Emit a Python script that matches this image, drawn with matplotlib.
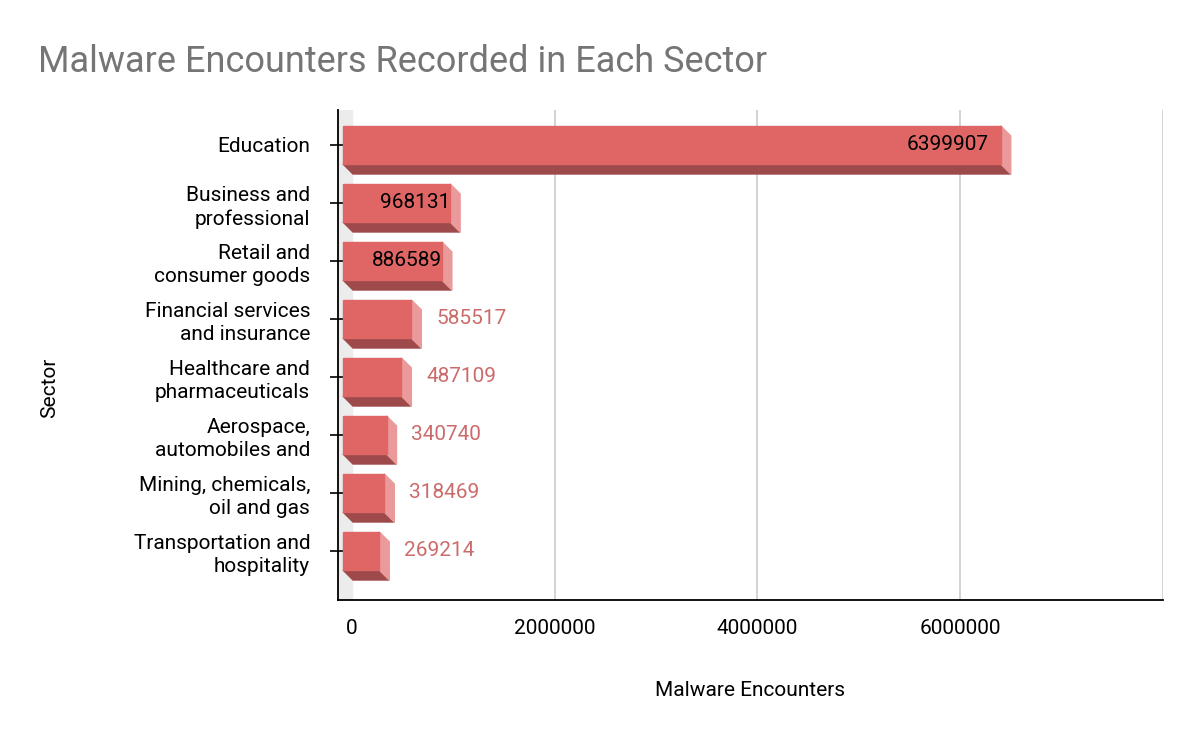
import matplotlib
matplotlib.use("Agg")
import matplotlib.pyplot as plt
from matplotlib.patches import Polygon, Rectangle

categories = ["Education", "Business and\nprofessional", "Retail and\nconsumer goods",
              "Financial services\nand insurance", "Healthcare and\npharmaceuticals",
              "Aerospace,\nautomobiles and", "Mining, chemicals,\noil and gas",
              "Transportation and\nhospitality"]
values = [6399907, 968131, 886589, 585517, 487109, 340740, 318469, 269214]
xticks = [0, 2000000, 4000000, 6000000]

plt.rcParams["font.family"] = "Roboto"
fig = plt.figure(figsize=(12, 7.42), dpi=100)
ax = fig.add_axes([338/1200, 1-600/742, (1163-338)/1200, 490/742])

px = 2000000/203.0
x0 = -9*px
ax.set_xlim(-14*px, 8000000)
ax.set_ylim(7.845, -0.603)
dx, dy = 10*px, 10/58.0
h = 0.328
front, bottom, side = "#e06666", "#9e4a4a", "#ea9a9a"

ax.add_patch(Rectangle((-14*px, -0.603), 14*px, 8.45, color="#ececec", zorder=0))
for i, v in enumerate(values):
    ax.add_patch(Polygon([(x0, i+h), (v, i+h), (v+dx, i+h+dy), (x0+dx, i+h+dy)], color=bottom, zorder=2))
    ax.add_patch(Polygon([(v, i-h), (v+dx, i-h+dy), (v+dx, i+h+dy), (v, i+h)], color=side, zorder=2))
    ax.add_patch(Rectangle((x0, i-h), v-x0, 2*h, color=front, zorder=3))
    if i < 3:
        ax.text(v-12*px if i == 0 else v, i, str(v), ha="right", va="center", fontsize=15, color="black", zorder=4)
    else:
        ax.text(v+dx+15*px, i, str(v), ha="left", va="center", fontsize=15, color="#cc6b6b", zorder=4)

ax.set_yticks(range(len(categories)))
ax.set_yticklabels(categories, fontsize=15, linespacing=1.3)
ax.tick_params(axis="y", length=12, width=1.2, direction="inout", pad=14)
ax.set_xticks(xticks)
ax.set_xticklabels([str(t) for t in xticks], fontsize=15)
ax.tick_params(axis="x", length=0, pad=14)
for g in [2000000, 4000000, 6000000, 8000000]:
    ax.axvline(g, color="#cccccc", lw=1.2, zorder=1)
ax.spines["top"].set_visible(False)
ax.spines["right"].set_visible(False)
ax.spines["left"].set_linewidth(1.3)
ax.spines["bottom"].set_linewidth(1.3)

fig.text(38/1200, 1-62/742, "Malware Encounters Recorded in Each Sector", fontsize=26, color="#757575", va="center")
fig.text(50/1200, 1-388/742, "Sector", rotation=90, fontsize=15, ha="center", va="center")
fig.text(750/1200, 1-690/742, "Malware Encounters", fontsize=15, ha="center", va="center")
fig.savefig("out.png", dpi=100)
